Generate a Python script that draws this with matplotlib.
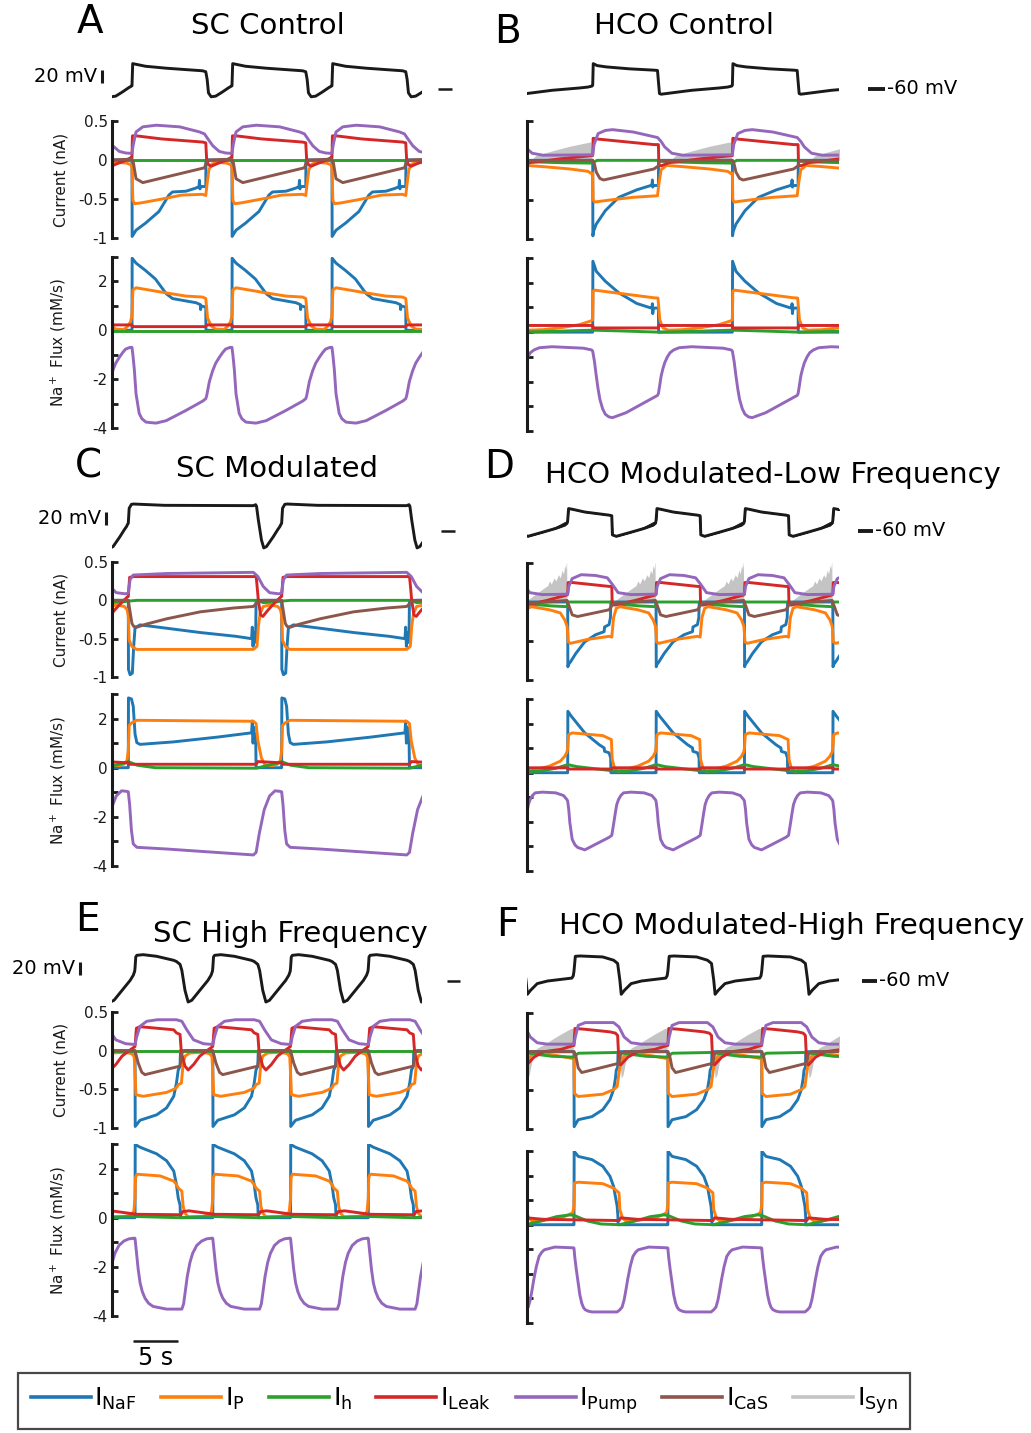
import matplotlib.pyplot as plt
import numpy as np
from matplotlib.lines import Line2D
from matplotlib.transforms import blended_transform_factory

plt.rcParams['font.family'] = 'DejaVu Sans'
plt.rcParams['axes.unicode_minus'] = False

W, H = 1031, 1433
PX_S = 9.0      # pixels per second on every time axis
PX_MV = 0.65    # pixels per mV on the voltage traces
LW = 2.1

C_NAF, C_P, C_H, C_LEAK = '#1f77b4', '#ff7f0e', '#2ca02c', '#d62728'
C_PUMP, C_CAS, C_SYN = '#9467bd', '#8c564b', '#c4c4c4'
INK = '#1a1a1a'

# Each trace is one cycle: (time after burst onset in s, value), repeated every period.

# A: SC Control
A_ONSET, A_PERIOD = 2.22, 11.11
A_V = [(0.0, -55), (0.08, -21), (0.45, -22), (1.5, -25), (3.8, -28), (7.85, -32), (8.2, -33.5),
       (8.35, -45), (8.5, -66), (8.8, -72), (9.3, -71), (10.0, -65), (10.8, -57.5), (11.0, -56)]
A_I_NAF = [(0.0, 0.0), (0.02, -0.98), (0.45, -0.9), (1.5, -0.81), (3.0, -0.66), (4.1, -0.45), (4.5, -0.41),
           (6.0, -0.4), (7.1, -0.36), (7.45, -0.34), (7.5, -0.26), (7.55, -0.37), (7.6, -0.34), (8.2, -0.34),
           (8.22, 0.0), (11.0, 0.0)]
A_I_P = [(0.0, -0.1), (0.1, -0.52), (0.3, -0.56), (1.0, -0.55), (3.8, -0.49), (5.5, -0.45), (7.85, -0.44),
         (8.2, -0.455), (8.35, -0.3), (8.55, -0.12), (8.9, -0.05), (9.5, -0.03), (10.5, -0.04), (11.0, -0.06)]
A_I_H = [(0.0, 0.0), (11.0, 0.0)]
A_I_LEAK = [(0.0, 0.03), (0.05, 0.31), (0.45, 0.31), (3.3, 0.27), (7.85, 0.23), (8.2, 0.22), (8.3, 0.0),
            (8.5, -0.06), (8.8, -0.08), (9.4, -0.05), (10.3, -0.01), (11.0, 0.03)]
A_I_PUMP = [(0.0, 0.09), (0.15, 0.2), (0.45, 0.36), (1.2, 0.425), (2.7, 0.446), (5.3, 0.425), (7.5, 0.36),
            (8.05, 0.335), (8.5, 0.26), (9.0, 0.18), (9.7, 0.11), (10.4, 0.09), (11.0, 0.085)]
A_I_CAS = [(0.0, 0.01), (0.15, -0.03), (0.45, -0.24), (1.2, -0.29), (8.05, -0.1), (8.3, -0.02), (8.5, 0.0),
           (11.0, 0.01)]
A_F_NAF = [(0.0, 0.0), (0.02, 2.95), (0.45, 2.75), (1.5, 2.45), (2.6, 2.1), (3.8, 1.5), (4.5, 1.3), (6.0, 1.2),
           (7.1, 1.13), (7.6, 1.05), (7.63, 0.85), (7.66, 1.0), (8.2, 0.95), (8.22, 0.0), (11.0, 0.0)]
A_F_P = [(0.0, 0.6), (0.1, 1.65), (0.45, 1.74), (3.8, 1.53), (6.0, 1.4), (7.85, 1.36), (8.2, 1.3), (8.4, 0.5),
         (8.8, 0.18), (9.3, 0.05), (10.2, 0.03), (10.6, 0.15), (10.95, 0.35)]
A_F_H = [(0.0, -0.03), (11.0, -0.03)]
A_F_LEAK = [(0.0, 0.22), (0.05, 0.15), (8.2, 0.15), (8.3, 0.22), (11.0, 0.22)]
A_F_PUMP = [(0.0, -0.7), (0.1, -1.0), (0.26, -1.6), (0.45, -2.6), (0.8, -3.4), (1.1, -3.62), (1.56, -3.76),
            (2.67, -3.8), (3.8, -3.7), (6.0, -3.28), (7.85, -2.9), (8.2, -2.8), (8.3, -2.68), (8.45, -2.4),
            (8.6, -2.1), (8.96, -1.66), (9.3, -1.35), (9.7, -1.11), (10.1, -0.9), (10.4, -0.77), (10.9, -0.7)]

# B: HCO Control
B_ONSET, B_PERIOD = 7.3, 15.52
B_V = [(0.0, -54), (0.06, -21), (0.5, -24), (1.5, -26), (4.1, -29), (6.8, -31), (7.2, -31.5), (7.3, -48),
       (7.42, -67), (7.6, -68), (7.9, -67.5), (11.0, -62), (14.0, -58.5), (15.0, -57), (15.45, -55.5)]
B_I_NAF = [(0.0, 0.0), (0.02, -0.96), (0.1, -0.9), (0.4, -0.81), (1.4, -0.64), (2.9, -0.47), (4.9, -0.375),
           (6.45, -0.32), (6.6, -0.3), (6.63, -0.25), (6.67, -0.34), (6.75, -0.32), (7.3, -0.32), (7.32, 0.0),
           (15.4, 0.0)]
B_I_P = [(0.0, -0.16), (0.05, -0.5), (0.2, -0.53), (2.2, -0.5), (4.5, -0.47), (7.2, -0.45), (7.35, -0.3),
         (7.6, -0.12), (8.2, -0.065), (10.0, -0.08), (13.0, -0.11), (15.0, -0.14), (15.4, -0.17)]
B_I_H = [(0.0, -0.03), (0.5, 0.0), (7.3, 0.0), (7.6, -0.01), (9.0, -0.02), (12.0, -0.03), (15.4, -0.035)]
B_I_LEAK = [(0.0, 0.06), (0.05, 0.28), (0.6, 0.27), (6.8, 0.2), (7.3, 0.2), (7.35, -0.06), (7.6, -0.07),
            (8.5, -0.03), (12.0, 0.02), (15.4, 0.06)]
B_I_PUMP = [(0.0, 0.07), (0.15, 0.2), (0.6, 0.34), (1.4, 0.38), (2.2, 0.39), (4.5, 0.36), (7.2, 0.29),
            (7.6, 0.24), (8.0, 0.17), (8.8, 0.09), (10.0, 0.065), (15.4, 0.07)]
B_I_CAS = [(0.0, 0.0), (0.2, -0.05), (0.4, -0.15), (0.8, -0.23), (1.2, -0.25), (6.8, -0.11), (7.3, -0.07),
           (7.4, -0.01), (15.4, 0.0)]
B_I_SYN = [(0.0, 0.0), (7.3, 0.0), (8.6, 0.0), (9.2, 0.06), (11.0, 0.12), (13.0, 0.18), (15.3, 0.235),
           (15.45, 0.0)]
B_F_NAF = [(0.0, 0.0), (0.02, 2.87), (0.4, 2.46), (1.4, 2.06), (2.9, 1.59), (4.9, 1.16), (6.45, 0.98),
           (6.6, 1.0), (6.63, 1.15), (6.67, 0.75), (6.75, 0.97), (7.3, 0.98), (7.32, 0.0), (15.4, 0.0)]
B_F_P = [(0.0, 0.5), (0.05, 1.66), (0.2, 1.7), (6.8, 1.39), (7.25, 1.38), (7.45, 0.51), (7.8, 0.17),
         (8.4, 0.08), (10.0, 0.1), (12.0, 0.18), (14.0, 0.3), (15.3, 0.45)]
B_F_H = [(0.0, 0.08), (3.0, 0.05), (7.3, 0.0), (10.0, 0.02), (15.4, 0.08)]
B_F_LEAK = [(0.0, 0.27), (0.05, 0.17), (7.3, 0.17), (7.35, 0.27), (15.4, 0.27)]
B_F_PUMP = [(0.0, -0.77), (0.2, -1.2), (0.4, -1.78), (0.6, -2.3), (0.8, -2.72), (1.1, -3.1), (1.4, -3.32),
            (1.8, -3.43), (2.2, -3.46), (3.7, -3.26), (7.2, -2.56), (7.3, -2.49), (7.45, -2.15), (7.6, -1.78),
            (7.8, -1.48), (8.0, -1.24), (8.3, -1.0), (8.6, -0.83), (9.0, -0.72), (9.6, -0.63), (11.0, -0.59),
            (14.5, -0.65), (15.4, -0.72)]

# C: SC Modulated
C_ONSET, C_PERIOD = 1.81, 17.04
C_V = [(0.0, -48), (0.1, -25), (0.35, -19), (0.6, -18.5), (4.0, -20.5), (13.9, -21), (14.15, -19.5),
       (14.25, -22), (14.45, -43), (14.8, -74), (15.05, -86), (15.35, -84), (16.1, -69), (16.6, -58),
       (16.85, -53), (16.95, -50)]
C_I_NAF = [(0.0, 0.0), (0.02, -0.9), (0.2, -0.97), (0.45, -0.95), (0.6, -0.6), (0.75, -0.36), (1.3, -0.32),
           (4.0, -0.36), (8.0, -0.42), (12.0, -0.47), (13.7, -0.5), (13.78, -0.35), (13.86, -0.6),
           (13.94, -0.42), (14.05, -0.55), (14.15, -0.5), (14.2, 0.0), (16.95, 0.0)]
C_I_P = [(0.0, -0.2), (0.1, -0.52), (0.4, -0.6), (0.9, -0.64), (13.9, -0.64), (14.3, -0.6), (14.45, -0.34),
         (14.65, -0.17), (15.0, -0.08), (15.8, -0.06), (16.6, -0.08), (16.9, -0.12)]
C_I_H = [(0.0, -0.01), (1.0, 0.0), (14.3, 0.0), (15.0, -0.03), (16.5, -0.02), (16.95, -0.01)]
C_I_LEAK = [(0.0, 0.05), (0.15, 0.3), (0.6, 0.31), (14.0, 0.31), (14.2, 0.32), (14.3, 0.2), (14.45, 0.0),
            (14.7, -0.19), (14.95, -0.21), (15.5, -0.13), (16.2, -0.04), (16.9, 0.04)]
C_I_PUMP = [(0.0, 0.1), (0.2, 0.27), (0.55, 0.33), (4.3, 0.35), (13.9, 0.365), (14.4, 0.31), (15.0, 0.18),
            (15.7, 0.1), (16.7, 0.085), (16.95, 0.09)]
C_I_CAS = [(0.0, 0.0), (0.2, -0.15), (0.4, -0.3), (0.6, -0.34), (0.95, -0.35), (2.0, -0.31), (4.3, -0.24),
           (8.0, -0.15), (11.7, -0.1), (13.9, -0.08), (14.4, -0.02), (15.0, 0.0), (16.95, 0.0)]
C_F_NAF = [(0.0, 0.0), (0.02, 2.84), (0.35, 2.8), (0.55, 2.5), (0.75, 1.37), (0.95, 1.02), (1.3, 0.95),
           (5.0, 1.05), (10.0, 1.25), (13.7, 1.42), (13.78, 1.9), (13.86, 1.0), (13.94, 1.65), (14.05, 1.2),
           (14.15, 1.35), (14.2, 0.0), (16.95, 0.0)]
C_F_P = [(0.0, 0.7), (0.1, 1.72), (0.35, 1.82), (0.95, 1.93), (13.9, 1.89), (14.2, 1.8), (14.4, 1.09),
         (14.8, 0.39), (15.2, 0.11), (16.0, 0.08), (16.6, 0.15), (16.9, 0.3)]
C_F_H = [(0.0, 0.25), (1.0, 0.1), (3.0, 0.0), (14.2, -0.02), (15.0, 0.05), (16.9, 0.22)]
C_F_LEAK = [(0.0, 0.22), (0.1, 0.14), (14.2, 0.14), (14.4, 0.25), (16.0, 0.22), (16.95, 0.2)]
C_F_PUMP = [(0.0, -0.98), (0.15, -1.5), (0.35, -2.55), (0.55, -3.1), (0.95, -3.24), (4.3, -3.31),
            (13.9, -3.55), (14.2, -3.45), (14.55, -2.69), (15.1, -1.71), (15.7, -1.15), (16.3, -0.94),
            (16.8, -0.96)]

# D: HCO Modulated-Low Frequency
D_ONSET, D_PERIOD = 4.52, 9.82
D_V = [(0.0, -44), (0.1, -25.5), (0.5, -26.5), (1.9, -30.8), (4.6, -35.6), (4.9, -36.5), (4.97, -66),
       (5.4, -68.2), (7.0, -62), (8.5, -56), (9.5, -51), (9.75, -48)]
D_V_SPIKES = [(0.0, 0.0), (7.0, 0.0), (8.0, 1.5), (9.0, 3.5), (9.7, 5.5), (9.75, 0.0)]
D_I_NAF = [(0.0, 0.0), (0.02, -0.83), (0.1, -0.8), (0.3, -0.77), (0.9, -0.66), (1.9, -0.51), (3.1, -0.42),
           (4.05, -0.38), (4.1, -0.32), (4.6, -0.29), (4.75, -0.2), (4.8, 0.0), (9.75, 0.0)]
D_I_P = [(0.0, -0.4), (0.05, -0.51), (0.3, -0.53), (2.2, -0.48), (4.6, -0.44), (4.9, -0.45), (5.1, -0.2),
         (5.4, -0.08), (5.8, -0.06), (7.8, -0.1), (9.0, -0.14), (9.5, -0.23), (9.75, -0.31)]
D_I_H = [(0.0, 0.0), (4.95, 0.0), (6.0, -0.03), (8.0, -0.05), (9.75, -0.06)]
D_I_LEAK = [(0.0, 0.1), (0.05, 0.25), (0.5, 0.25), (4.6, 0.2), (4.9, 0.2), (4.95, -0.03), (5.2, -0.04),
            (7.5, 0.02), (9.75, 0.09)]
D_I_PUMP = [(0.0, 0.1), (0.12, 0.2), (0.5, 0.3), (1.5, 0.35), (3.1, 0.34), (4.4, 0.31), (5.0, 0.22),
            (5.6, 0.12), (7.0, 0.095), (9.75, 0.1)]
D_I_CAS = [(0.0, -0.01), (0.15, -0.05), (0.5, -0.165), (1.1, -0.186), (4.6, -0.1), (4.95, -0.04),
           (5.2, -0.02), (7.5, 0.0), (9.75, 0.02)]
D_I_SYN = [(0.0, 0.0), (4.95, 0.0), (5.3, 0.02), (6.0, 0.08), (6.6, 0.13), (7.2, 0.18), (7.6, 0.21),
           (7.8, 0.27), (8.0, 0.23), (8.3, 0.31), (8.5, 0.27), (8.8, 0.35), (9.0, 0.31), (9.2, 0.41),
           (9.35, 0.36), (9.5, 0.47), (9.6, 0.42), (9.7, 0.53), (9.74, 0.0)]
D_F_NAF = [(0.0, 0.0), (0.02, 2.5), (0.4, 2.3), (1.9, 1.62), (3.5, 1.14), (4.05, 1.01), (4.1, 0.87),
           (4.6, 0.81), (4.78, 0.6), (4.8, 0.0), (9.75, 0.0)]
D_F_P = [(0.0, 1.0), (0.1, 1.55), (0.5, 1.62), (3.9, 1.51), (4.85, 1.35), (4.95, 0.54), (5.2, 0.2),
         (5.6, 0.06), (7.8, 0.27), (9.0, 0.47), (9.5, 0.67), (9.75, 0.85)]
D_F_H = [(0.0, 0.33), (1.0, 0.25), (4.95, 0.08), (6.5, 0.05), (8.5, 0.18), (9.75, 0.32)]
D_F_LEAK = [(0.0, 0.2), (0.05, 0.15), (4.9, 0.15), (4.95, 0.2), (9.75, 0.2)]
D_F_PUMP = [(0.0, -1.16), (0.12, -1.5), (0.24, -2.03), (0.5, -2.71), (0.8, -2.93), (1.1, -3.04), (1.9, -3.14),
            (4.6, -2.63), (4.9, -2.55), (5.1, -2.1), (5.3, -1.62), (5.45, -1.3), (5.65, -1.09), (5.9, -0.93),
            (6.2, -0.82), (7.0, -0.79), (8.5, -0.82), (9.36, -0.93), (9.75, -1.1)]

# E: SC High Frequency
E_ONSET, E_PERIOD = 2.56, 8.64
E_V = [(0.0, -40), (0.08, -23), (0.2, -20.5), (0.9, -19.5), (2.4, -22), (4.3, -28.2), (4.6, -30), (5.0, -34.4),
       (5.2, -43.6), (5.55, -74.4), (5.9, -92.3), (6.3, -89.7), (7.2, -74.4), (8.1, -59), (8.45, -51),
       (8.6, -45)]
E_I_NAF = [(0.0, 0.0), (0.02, -0.98), (0.55, -0.9), (2.4, -0.83), (3.5, -0.74), (4.3, -0.59), (4.6, -0.42),
           (4.8, -0.25), (5.0, -0.2), (5.05, 0.0), (8.6, 0.0)]
E_I_P = [(0.0, -0.3), (0.1, -0.57), (0.9, -0.59), (3.5, -0.54), (4.3, -0.5), (4.6, -0.48), (4.8, -0.44),
         (5.15, -0.42), (5.35, -0.16), (5.55, -0.07), (6.1, -0.03), (7.5, -0.02), (8.3, -0.04), (8.55, -0.08)]
E_I_H = [(0.0, -0.01), (8.6, -0.01)]
E_I_LEAK = [(0.0, 0.06), (0.15, 0.29), (0.55, 0.31), (4.3, 0.27), (4.6, 0.23), (5.0, 0.21), (5.15, -0.03),
            (5.55, -0.2), (5.9, -0.25), (6.5, -0.18), (7.2, -0.07), (8.1, 0.01), (8.6, 0.05)]
E_I_PUMP = [(0.0, 0.08), (0.2, 0.185), (0.55, 0.315), (1.3, 0.38), (2.5, 0.4), (4.6, 0.4), (5.2, 0.38),
            (5.75, 0.27), (6.5, 0.14), (7.6, 0.09), (8.6, 0.08)]
E_I_CAS = [(0.0, 0.0), (0.35, -0.16), (0.75, -0.28), (1.1, -0.31), (5.0, -0.2), (5.2, -0.03), (5.5, 0.0),
           (8.6, 0.0)]
E_F_NAF = [(0.0, 0.0), (0.02, 2.98), (0.55, 2.87), (2.4, 2.6), (3.5, 2.32), (4.3, 1.9), (4.6, 1.35),
           (4.8, 0.8), (5.0, 0.52), (5.05, 0.0), (8.6, 0.0)]
E_F_P = [(0.0, 0.8), (0.05, 1.63), (0.2, 1.77), (2.8, 1.7), (4.3, 1.49), (4.6, 1.35), (4.8, 1.21),
         (5.2, 1.08), (5.35, 0.46), (5.55, 0.18), (5.9, 0.04), (7.5, 0.05), (8.2, 0.12), (8.5, 0.25)]
E_F_H = [(0.0, 0.05), (5.0, 0.0), (8.6, 0.05)]
E_F_LEAK = [(0.0, 0.14), (5.1, 0.12), (5.3, 0.25), (6.0, 0.28), (8.6, 0.15)]
E_F_PUMP = [(0.0, -0.85), (0.19, -1.54), (0.35, -2.1), (0.56, -2.65), (0.8, -3.0), (1.1, -3.27), (1.5, -3.48),
            (2.0, -3.61), (3.5, -3.72), (5.2, -3.72), (5.4, -3.5), (5.56, -3.06), (5.8, -2.4), (6.1, -1.82),
            (6.4, -1.45), (6.85, -1.13), (7.4, -0.95), (7.96, -0.86), (8.6, -0.83)]

# F: HCO Modulated-High Frequency
F_ONSET, F_PERIOD = 5.22, 10.43
F_V = [(0.0, -45), (0.15, -22), (0.7, -21.5), (3.2, -23), (4.4, -28), (4.85, -33), (5.1, -59), (5.25, -80.5),
       (5.6, -74.4), (6.35, -64), (7.5, -60), (9.0, -57.5), (10.2, -55.5), (10.35, -52)]
F_I_NAF = [(0.0, 0.0), (0.02, -0.97), (0.47, -0.88), (2.0, -0.84), (3.2, -0.75), (4.0, -0.62), (4.4, -0.49),
           (4.6, -0.35), (4.7, -0.24), (4.85, -0.2), (4.9, 0.0), (10.35, 0.0)]
F_I_P = [(0.0, -0.1), (0.05, -0.54), (0.47, -0.58), (3.2, -0.55), (4.4, -0.49), (4.8, -0.45), (4.95, -0.32),
         (5.1, -0.2), (5.4, -0.09), (5.8, -0.03), (6.8, -0.02), (8.5, -0.05), (10.35, -0.09)]
F_I_H = [(0.0, -0.06), (0.5, -0.02), (5.0, -0.01), (6.0, -0.03), (8.0, -0.06), (10.35, -0.07)]
F_I_LEAK = [(0.0, 0.08), (0.1, 0.3), (1.2, 0.29), (4.0, 0.256), (4.6, 0.24), (4.85, 0.21), (5.0, -0.15),
            (5.2, -0.17), (6.0, -0.07), (7.1, 0.0), (9.0, 0.03), (10.35, 0.08)]
F_I_PUMP = [(0.0, 0.1), (0.15, 0.19), (0.47, 0.34), (1.25, 0.376), (4.4, 0.376), (5.0, 0.32), (5.57, 0.19),
            (6.35, 0.115), (7.5, 0.097), (10.35, 0.097)]
F_I_CAS = [(0.0, 0.0), (0.2, -0.05), (0.47, -0.21), (0.86, -0.27), (4.98, -0.15), (5.2, -0.02), (5.6, 0.0),
           (10.35, 0.0)]
F_I_SYN = [(0.0, 0.0), (5.0, 0.0), (5.1, -0.1), (5.25, -0.34), (5.45, -0.3), (5.7, -0.15), (5.95, 0.0),
           (6.4, 0.05), (7.2, 0.1), (8.0, 0.16), (9.0, 0.23), (10.1, 0.3), (10.3, 0.3), (10.35, 0.0)]
F_F_NAF = [(0.0, 0.0), (0.02, 2.99), (0.47, 2.78), (2.0, 2.65), (3.2, 2.38), (4.0, 1.97), (4.4, 1.56),
           (4.6, 1.15), (4.8, 0.75), (4.88, 0.35), (4.9, 0.0), (10.35, 0.0)]
F_F_P = [(0.0, 0.8), (0.05, 1.7), (0.47, 1.73), (3.2, 1.67), (4.4, 1.49), (4.8, 1.36), (5.0, 1.3),
         (5.1, 0.61), (5.4, 0.27), (5.8, 0.14), (7.1, 0.18), (9.0, 0.27), (10.1, 0.45), (10.3, 0.5)]
F_F_H = [(0.0, 0.38), (1.5, 0.15), (3.0, 0.03), (5.0, 0.0), (6.5, 0.12), (8.5, 0.33), (10.0, 0.4),
         (10.35, 0.38)]
F_F_LEAK = [(0.0, 0.2), (5.0, 0.17), (5.2, 0.28), (7.0, 0.22), (10.35, 0.2)]
F_F_PUMP = [(0.0, -0.95), (0.08, -1.29), (0.25, -1.8), (0.47, -2.38), (0.65, -2.85), (0.86, -3.19),
            (1.05, -3.37), (1.25, -3.46), (1.6, -3.52), (2.0, -3.55), (4.8, -3.55), (5.1, -3.46),
            (5.35, -3.35), (5.57, -3.06), (5.75, -2.7), (5.96, -2.24), (6.25, -1.7), (6.55, -1.29),
            (6.85, -1.12), (7.14, -1.02), (8.3, -0.91), (10.35, -0.94)]

CUR_COLORS = [C_NAF, C_P, C_H, C_LEAK, C_PUMP, C_CAS]
FLUX_COLORS = [C_NAF, C_P, C_H, C_LEAK, C_PUMP]

# letter, title, onset, period, voltage, currents, synaptic, fluxes, labelled axes
PANELS = [
    ('A', 'SC Control', A_ONSET, A_PERIOD, A_V,
     [A_I_NAF, A_I_P, A_I_H, A_I_LEAK, A_I_PUMP, A_I_CAS], None,
     [A_F_NAF, A_F_P, A_F_H, A_F_LEAK, A_F_PUMP], True),
    ('B', 'HCO Control', B_ONSET, B_PERIOD, B_V,
     [B_I_NAF, B_I_P, B_I_H, B_I_LEAK, B_I_PUMP, B_I_CAS], B_I_SYN,
     [B_F_NAF, B_F_P, B_F_H, B_F_LEAK, B_F_PUMP], False),
    ('C', 'SC Modulated', C_ONSET, C_PERIOD, C_V,
     [C_I_NAF, C_I_P, C_I_H, C_I_LEAK, C_I_PUMP, C_I_CAS], None,
     [C_F_NAF, C_F_P, C_F_H, C_F_LEAK, C_F_PUMP], True),
    ('D', 'HCO Modulated-Low Frequency', D_ONSET, D_PERIOD, D_V,
     [D_I_NAF, D_I_P, D_I_H, D_I_LEAK, D_I_PUMP, D_I_CAS], D_I_SYN,
     [D_F_NAF, D_F_P, D_F_H, D_F_LEAK, D_F_PUMP], False),
    ('E', 'SC High Frequency', E_ONSET, E_PERIOD, E_V,
     [E_I_NAF, E_I_P, E_I_H, E_I_LEAK, E_I_PUMP, E_I_CAS], None,
     [E_F_NAF, E_F_P, E_F_H, E_F_LEAK, E_F_PUMP], True),
    ('F', 'HCO Modulated-High Frequency', F_ONSET, F_PERIOD, F_V,
     [F_I_NAF, F_I_P, F_I_H, F_I_LEAK, F_I_PUMP, F_I_CAS], F_I_SYN,
     [F_F_NAF, F_F_P, F_F_H, F_F_LEAK, F_F_PUMP], False),
]

# pixel layout: x0, x1, y of -60 mV, current top/bottom, flux top/bottom
LAYOUT = {
    'A': (112, 422, 89, 121, 238, 257, 428),
    'B': (527, 839, 89, 121, 239, 258, 431),
    'C': (112, 422, 531, 562, 677, 694, 866),
    'D': (527, 839, 531, 563, 680, 699, 871),
    'E': (112, 422, 981, 1012, 1128, 1144, 1316),
    'F': (527, 839, 981, 1013, 1129, 1151, 1323),
}
# letter xy, title xy, -60 mV dash x-range, 20 mV bar offset from axis (px)
HEAD = {
    'A': ((90, 22), (268, 26), (438, 452), -10),
    'B': ((507, 32), (684, 26), (868, 885), None),
    'C': ((88, 466), (277, 469), (441, 455), -6),
    'D': ((499, 467), (773, 475), (858, 873), None),
    'E': ((87, 920), (290, 934), (447, 460), -32),
    'F': ((507, 925), (792, 926), (862, 877), None),
}


def tile(cycle, onset, period, t_end):
    tc = np.array([p[0] for p in cycle])
    val = np.array([p[1] for p in cycle])
    ks = range(-2, int(t_end / period) + 3)
    t = np.concatenate([tc + onset + k * period for k in ks])
    return t, np.tile(val, len(ks))


def px_axes(fig, x0, x1, top, bot):
    return fig.add_axes([x0 / W, 1 - bot / H, (x1 - x0) / W, (bot - top) / H])


def style_trace_axis(ax, ticks, labels):
    for s in ('top', 'right', 'bottom'):
        ax.spines[s].set_visible(False)
    ax.spines['left'].set_linewidth(2.2)
    ax.spines['left'].set_color(INK)
    ax.set_xticks([])
    ax.set_yticks(ticks)
    ax.set_yticklabels(labels)
    ax.tick_params(axis='y', direction='in', length=4, width=2, color=INK,
                   labelsize=11, labelcolor=INK, pad=3)
    ax.patch.set_visible(False)


fig = plt.figure(figsize=(W / 100, H / 100), dpi=100)

for letter, title, onset, period, v, curs, syn, fluxes, labelled in PANELS:
    x0, x1, y60, it, ib, ft, fb = LAYOUT[letter]
    (lx, ly), (tx, ty), (dx0, dx1), bar_dx = HEAD[letter]
    t_end = (x1 - x0) / PX_S

    fig.text(lx / W, 1 - ly / H, letter, fontsize=28, ha='center', va='center')
    fig.text(tx / W, 1 - ty / H, title, fontsize=21, ha='center', va='center')

    # membrane potential
    vb, vt = y60 + 26, y60 - 40
    axv = px_axes(fig, x0, x1, vt, vb)
    axv.set_xlim(0, t_end)
    axv.set_ylim(-60 - (vb - y60) / PX_MV, -60 + (y60 - vt) / PX_MV)
    axv.axis('off')
    t, y = tile(v, onset, period, t_end)
    axv.plot(t, y, color=INK, lw=LW, solid_joinstyle='round')
    if letter == 'D':
        # spikelets riding on the slow depolarisation before each burst
        ts, ys = tile(D_V_SPIKES, onset, period, t_end)
        axv.fill_between(t, y, y + np.interp(t, ts, ys), color=INK, lw=0.6)
    hco = bar_dx is None
    axv.plot([(dx0 - x0) / PX_S, (dx1 - x0) / PX_S], [-60, -60], color=INK,
             lw=2.8 if hco else 1.8, clip_on=False, solid_capstyle='butt')
    if hco:
        axv.text((dx1 + 2 - x0) / PX_S, -60, '-60 mV', fontsize=14, ha='left', va='center')
    else:
        tb = bar_dx / PX_S
        axv.plot([tb, tb], [-50, -30], color=INK, lw=2.2, clip_on=False, solid_capstyle='butt')
        axv.text(tb - 5 / PX_S, -40, '20 mV', fontsize=14, ha='right', va='center')

    # currents
    axi = px_axes(fig, x0, x1, it, ib)
    axi.set_xlim(0, t_end)
    axi.set_ylim(-1, 0.5)
    style_trace_axis(axi, [-1, -0.5, 0, 0.5],
                     ['-1', '-0.5', '0', '0.5'] if labelled else [''] * 4)
    if syn is not None:
        t, y = tile(syn, onset, period, t_end)
        axi.fill_between(t, 0, y, color=C_SYN, lw=0, zorder=1)
    for cyc, col in zip(curs, CUR_COLORS):
        t, y = tile(cyc, onset, period, t_end)
        axi.plot(t, y, color=col, lw=LW, zorder=2)
    if labelled:
        axi.set_ylabel('Current (nA)', fontsize=11, color=INK)
        axi.yaxis.set_label_coords((68 - x0) / (x1 - x0), 0.5)

    # sodium fluxes
    axf = px_axes(fig, x0, x1, ft, fb)
    axf.set_xlim(0, t_end)
    axf.set_ylim(-4, 3)
    flux_ticks = [-4, -3, -2, -1, 0, 1, 2, 3]
    style_trace_axis(axf, flux_ticks,
                     ['-4', '', '-2', '', '0', '', '2', ''] if labelled else [''] * 8)
    for cyc, col in zip(fluxes, FLUX_COLORS):
        t, y = tile(cyc, onset, period, t_end)
        axf.plot(t, y, color=col, lw=LW, zorder=2)
    if labelled:
        axf.set_ylabel(r'Na$^+$ Flux (mM/s)', fontsize=11, color=INK)
        axf.yaxis.set_label_coords((68 - x0) / (x1 - x0), 0.5)

    if letter == 'E':
        # 5 s time scale bar under the flux traces
        tr = blended_transform_factory(axf.transData, axf.transAxes)
        yb = (fb - 1341) / (fb - ft)
        t0 = (133 - x0) / PX_S
        axf.plot([t0, t0 + 5], [yb, yb], color=INK, lw=1.8, transform=tr, clip_on=False,
                 solid_capstyle='butt')
        axf.text(t0 + 2.5, (fb - 1358) / (fb - ft), '5 s', transform=tr, fontsize=17,
                 ha='center', va='center')

names = ['NaF', 'P', 'h', 'Leak', 'Pump', 'CaS', 'Syn']
colors = [C_NAF, C_P, C_H, C_LEAK, C_PUMP, C_CAS, C_SYN]
handles = [Line2D([], [], color=c, lw=2.6) for c in colors]
labels = [r'$\mathregular{I_{%s}}$' % n for n in names]
leg = fig.legend(handles, labels, loc='center',
                 bbox_to_anchor=(18 / W, 1 - 1430 / H, (910 - 18) / W, (1430 - 1372) / H),
                 mode='expand', ncol=7, fontsize=18, frameon=True, fancybox=False,
                 edgecolor=INK, handlelength=2.4, handletextpad=0.15, columnspacing=0.8,
                 borderaxespad=0.0, borderpad=0.5)
leg.get_frame().set_linewidth(1.6)

fig.savefig('out.png', dpi=100)
